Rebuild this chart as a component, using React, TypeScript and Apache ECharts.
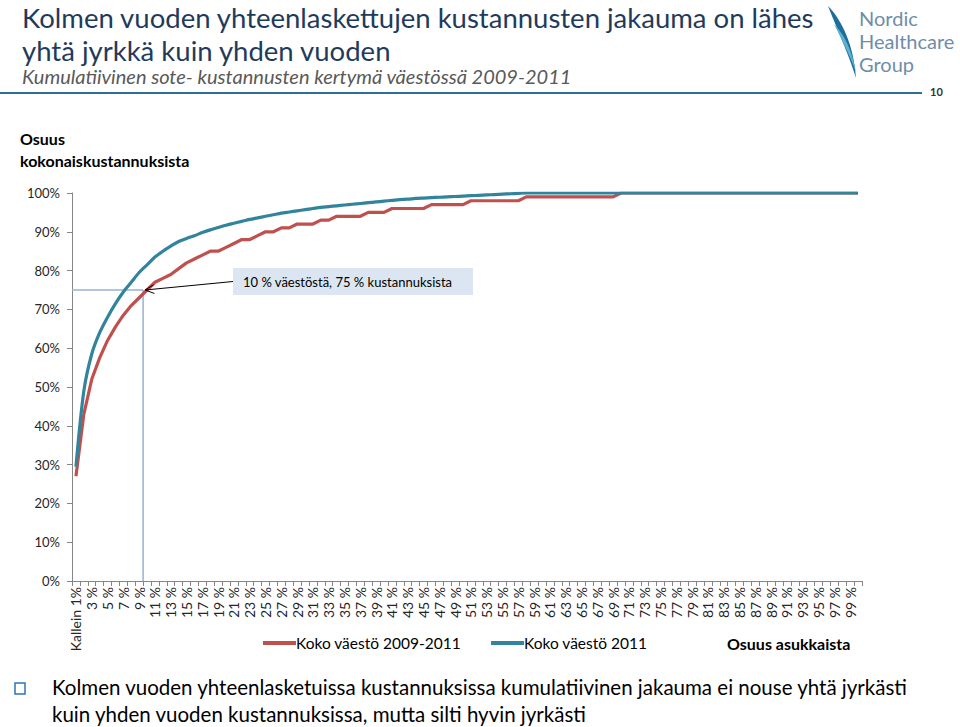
import React, { useEffect, useRef } from 'react';
import * as echarts from 'echarts';

const categories: string[] = Array.from({ length: 100 }, (_, i) => (i === 0 ? 'Kallein 1%' : `${i + 1} %`));

const seriesNames = ['Koko väestö 2009-2011', 'Koko väestö 2011'];

const costs20092011 = [
  27, 43, 52, 57.5, 62, 65.5, 68.5, 71, 73, 75,
  77, 78, 79, 80.5, 82, 83, 84, 85, 85, 86,
  87, 88, 88, 89, 90, 90, 91, 91, 92, 92,
  92, 93, 93, 94, 94, 94, 94, 95, 95, 95,
  96, 96, 96, 96, 96, 97, 97, 97, 97, 97,
  98, 98, 98, 98, 98, 98, 98, 99, 99, 99,
  99, 99, 99, 99, 99, 99, 99, 99, 99, 100,
  100, 100, 100, 100, 100, 100, 100, 100, 100, 100,
  100, 100, 100, 100, 100, 100, 100, 100, 100, 100,
  100, 100, 100, 100, 100, 100, 100, 100, 100, 100,
];

const costs2011 = [
  29.5, 49, 58.5, 64, 68, 71.5, 74.5, 77, 79.5, 81.5,
  83.5, 85, 86.3, 87.5, 88.3, 89, 89.8, 90.5, 91.1, 91.7,
  92.2, 92.7, 93.2, 93.6, 94, 94.4, 94.8, 95.1, 95.4, 95.7,
  96, 96.3, 96.5, 96.7, 96.9, 97.1, 97.3, 97.5, 97.7, 97.9,
  98.1, 98.3, 98.4, 98.6, 98.7, 98.8, 98.9, 99, 99.1, 99.2,
  99.3, 99.4, 99.5, 99.6, 99.7, 99.8, 99.9, 100, 100, 100,
  100, 100, 100, 100, 100, 100, 100, 100, 100, 100,
  100, 100, 100, 100, 100, 100, 100, 100, 100, 100,
  100, 100, 100, 100, 100, 100, 100, 100, 100, 100,
  100, 100, 100, 100, 100, 100, 100, 100, 100, 100,
];

const titleLines = ['Kolmen vuoden yhteenlaskettujen kustannusten jakauma on lähes', 'yhtä jyrkkä kuin yhden vuoden'];
const subtitle = 'Kumulatiivinen sote- kustannusten kertymä väestössä 2009-2011';
const yAxisTitle = ['Osuus', 'kokonaiskustannuksista'];
const xAxisTitle = 'Osuus asukkaista';
const annotationText = '10 % väestöstä, 75 % kustannuksista';
const annotationIndex = 9; // 10 %
const annotationCost = 75;
const bulletLines = [
  'Kolmen vuoden yhteenlasketuissa kustannuksissa kumulatiivinen jakauma ei nouse yhtä jyrkästi',
  'kuin yhden vuoden kustannuksissa, mutta silti hyvin jyrkästi',
];
const logoLines = ['Nordic', 'Healthcare', 'Group'];
const pageNumber = '10';

const RED = '#C0504D';
const BLUE = '#31849B';
const NAVY = '#1F3B5C';
const FONT = 'Lato, "Open Sans", sans-serif';

echarts.graphic.registerShape(
  'nhgFeather',
  echarts.graphic.extendPath('M0 0 C14 14 26 40 28 72 C22 52 12 30 0 0 Z', {})
);
echarts.graphic.registerShape(
  'nhgFeather2',
  echarts.graphic.extendPath('M0 14 C10 24 18 40 22 62 C16 46 8 30 0 14 Z', {})
);

export default function App() {
  const ref = useRef<HTMLDivElement>(null);

  useEffect(() => {
    document.body.style.margin = '0';
    if (!ref.current) return;
    const chart = echarts.init(ref.current, null, { renderer: 'svg' });

    chart.setOption({
      animation: false,
      backgroundColor: '#ffffff',
      textStyle: { fontFamily: FONT },
      grid: { left: 72, right: 98, top: 193, bottom: 146, containLabel: false },
      legend: {
        data: seriesNames,
        left: 258,
        top: 630,
        icon: 'rect',
        itemWidth: 33,
        itemHeight: 4,
        itemGap: 30,
        textStyle: { fontSize: 15.5, color: '#000', fontFamily: FONT, padding: [0, 0, 0, -5] },
      },
      xAxis: {
        type: 'category',
        data: categories,
        boundaryGap: true,
        axisLine: { lineStyle: { color: '#868686', width: 1 } },
        axisTick: { show: true, interval: 0, length: 5, lineStyle: { color: '#868686' } },
        axisLabel: { interval: 1, rotate: 90, fontSize: 14, color: '#262626', fontFamily: FONT, margin: 6 },
        splitLine: { show: false },
      },
      yAxis: {
        type: 'value',
        min: 0,
        max: 100,
        interval: 10,
        axisLine: { show: true, lineStyle: { color: '#868686', width: 1 } },
        axisTick: { show: true, length: 5, lineStyle: { color: '#868686' } },
        axisLabel: { formatter: '{value}%', fontSize: 13, color: '#262626', fontFamily: FONT, margin: 12 },
        splitLine: { show: false },
      },
      series: [
        {
          name: seriesNames[0],
          type: 'line',
          data: costs20092011,
          symbol: 'none',
          lineStyle: { color: RED, width: 3.2 },
          itemStyle: { color: RED },
          z: 2,
        },
        {
          name: seriesNames[1],
          type: 'line',
          data: costs2011,
          symbol: 'none',
          smooth: 0.3,
          lineStyle: { color: BLUE, width: 3.2 },
          itemStyle: { color: BLUE },
          z: 3,
        },
      ],
    });

    const pA = chart.convertToPixel({ gridIndex: 0 }, [annotationIndex - 1, annotationCost]) as number[];
    const pB = chart.convertToPixel({ gridIndex: 0 }, [annotationIndex, annotationCost]) as number[];
    const pZero = chart.convertToPixel({ gridIndex: 0 }, [0, 0]) as number[];
    const vx = (pA[0] + pB[0]) / 2;
    const hy = pB[1];
    const axisLeft = 72;
    const tipX = pB[0] - 2;
    const tipY = pB[1];
    const boxX = 233, boxY = 268, boxW = 240, boxH = 27;
    const startX = boxX, startY = boxY + boxH / 2;
    const ang = Math.atan2(startY - tipY, startX - tipX);
    const ah = 10, aw = 0.45;
    const head = [
      [tipX + ah * Math.cos(ang - aw), tipY + ah * Math.sin(ang - aw)],
      [tipX, tipY],
      [tipX + ah * Math.cos(ang + aw), tipY + ah * Math.sin(ang + aw)],
    ];

    chart.setOption({
      graphic: [
        // title
        { type: 'text', left: 22, top: 3, style: { text: titleLines[0], font: `normal 27.5px ${FONT}`, fill: NAVY } },
        { type: 'text', left: 22, top: 36, style: { text: titleLines[1], font: `normal 27.5px ${FONT}`, fill: NAVY } },
        { type: 'text', left: 22, top: 66, style: { text: subtitle, font: `italic 20px ${FONT}`, fill: '#595959' } },
        { type: 'rect', shape: { x: 0, y: 92, width: 922, height: 2 }, style: { fill: '#2F6F93' } },
        { type: 'text', left: 930, top: 86, style: { text: pageNumber, font: `bold 11px ${FONT}`, fill: '#333' } },
        // logo
        { type: 'nhgFeather', x: 828, y: 6, style: { fill: '#1C6E9C' } },
        { type: 'nhgFeather2', x: 834, y: 10, style: { fill: '#5FB0D0' } },
        { type: 'text', left: 859, top: 8, style: { text: logoLines[0], font: `normal 20px ${FONT}`, fill: '#6E8DA8' } },
        { type: 'text', left: 859, top: 31, style: { text: logoLines[1], font: `normal 20px ${FONT}`, fill: '#6E8DA8' } },
        { type: 'text', left: 859, top: 54, style: { text: logoLines[2], font: `normal 20px ${FONT}`, fill: '#6E8DA8' } },
        // axis titles
        { type: 'text', left: 20, top: 130, style: { text: yAxisTitle[0], font: `bold 16px ${FONT}`, fill: '#000' } },
        { type: 'text', left: 20, top: 152, style: { text: yAxisTitle[1], font: `bold 16px ${FONT}`, fill: '#000' } },
        { type: 'text', left: 727, top: 635, style: { text: xAxisTitle, font: `bold 16px ${FONT}`, fill: '#000' } },
        // annotation lines
        { type: 'line', shape: { x1: axisLeft, y1: hy, x2: vx, y2: hy }, style: { stroke: '#95B3D7', lineWidth: 1.5 }, z: 1 },
        { type: 'line', shape: { x1: vx, y1: hy, x2: vx, y2: pZero[1] }, style: { stroke: '#95B3D7', lineWidth: 1.5 }, z: 1 },
        // annotation box and arrow
        { type: 'rect', shape: { x: boxX, y: boxY, width: boxW, height: boxH }, style: { fill: '#DCE6F2' }, z: 10 },
        { type: 'text', x: boxX + 10, y: boxY + boxH / 2, style: { text: annotationText, font: `normal 13px ${FONT}`, fill: '#000', verticalAlign: 'middle' }, z: 11 },
        { type: 'line', shape: { x1: startX, y1: startY, x2: tipX, y2: tipY }, style: { stroke: '#000', lineWidth: 1 }, z: 12 },
        { type: 'polyline', shape: { points: head }, style: { stroke: '#000', lineWidth: 1, fill: 'none' }, z: 12 },
        // bullet
        { type: 'rect', shape: { x: 15, y: 683, width: 10, height: 11 }, style: { fill: '#fff', stroke: '#2E75B6', lineWidth: 1.5 } },
        { type: 'text', left: 52, top: 676, style: { text: bulletLines[0], font: `normal 20.5px ${FONT}`, fill: '#000' } },
        { type: 'text', left: 52, top: 703, style: { text: bulletLines[1], font: `normal 20.5px ${FONT}`, fill: '#000' } },
      ],
    });

    return () => chart.dispose();
  }, []);

  return <div ref={ref} style={{ width: 960, height: 727 }} />;
}
